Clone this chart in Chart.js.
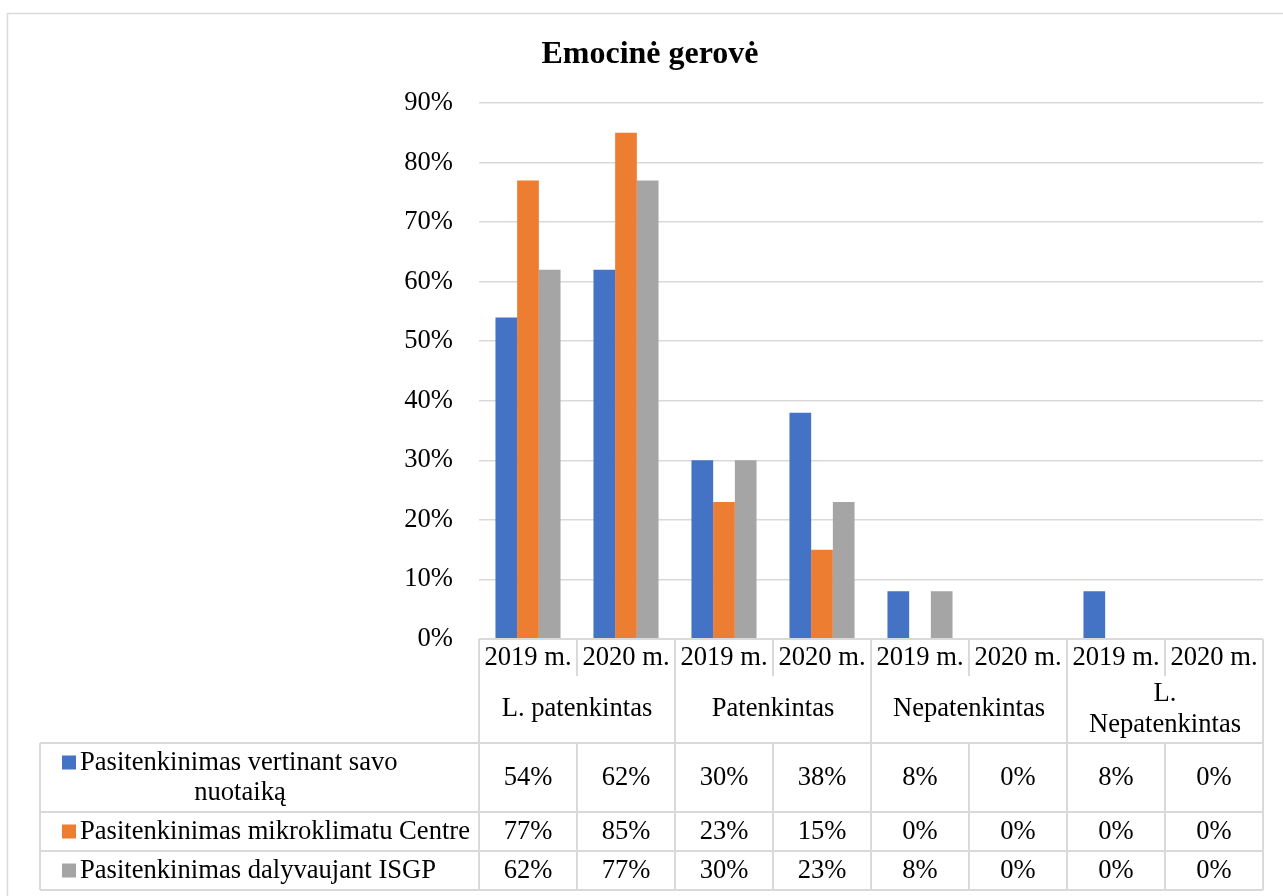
<!DOCTYPE html>
<html>
<head>
<meta charset="utf-8">
<title>Emocinė gerovė</title>
<script src="https://cdn.jsdelivr.net/npm/chart.js@4.4.1/dist/chart.umd.min.js"></script>
<style>
  html, body { margin: 0; padding: 0; background: #fff; }
  #wrap { width: 1283px; height: 896px; position: relative; }
</style>
</head>
<body>
<div id="wrap"><canvas id="emocChart"></canvas></div>
<script>
// values
var chartTitle = 'Emocinė gerovė';
var years = ['2019 m.', '2020 m.'];
var groups = [['L. patenkintas'], ['Patenkintas'], ['Nepatenkintas'], ['L.', 'Nepatenkintas']];
var seriesNames = [
    ['Pasitenkinimas vertinant savo', 'nuotaiką'],
    ['Pasitenkinimas mikroklimatu Centre'],
    ['Pasitenkinimas dalyvaujant ISGP']
];
var nuotaika = [54, 62, 30, 38, 8, 0, 8, 0];
var mikroklimatas = [77, 85, 23, 15, 0, 0, 0, 0];
var dalyvavimas = [62, 77, 30, 23, 8, 0, 0, 0];
var yMax = 90;
var yStep = 10;

var colors = ['#4472C4', '#ED7D31', '#A5A5A5'];
var gridColor = '#D9D9D9';
var serif = '"Liberation Serif", "Times New Roman", serif';
var fontSize = 26.6;
var textFont = fontSize + 'px ' + serif;

// one label per bar group: [year, group]
var labels = [];
groups.forEach(function (g) {
    years.forEach(function (y) {
        labels.push([y, g.join(' ')]);
    });
});

var seriesValues = [nuotaika, mikroklimatas, dalyvavimas];

// draws title, outer border and the data table under the plot
var tablePlugin = {
    id: 'dataTable',
    afterDraw: function (chart) {
        var ctx = chart.ctx;
        var area = chart.chartArea;
        var x = chart.scales.x;
        var step = x.getPixelForValue(1) - x.getPixelForValue(0);
        var n = labels.length;

        var top = area.bottom;
        var yearBottom = top + 37;
        var groupBottom = top + 104;
        var rowHeights = [69, 39, 39];
        var rowTops = [groupBottom];
        rowHeights.forEach(function (h, i) { rowTops.push(rowTops[i] + h); });
        var tableBottom = rowTops[rowTops.length - 1];
        var legendLeft = 40;

        ctx.save();

        // outer chart border
        ctx.strokeStyle = gridColor;
        ctx.lineWidth = 1.5;
        ctx.strokeRect(7.5, 13.5, 1300, 900);

        // title
        ctx.fillStyle = '#000';
        ctx.font = 'bold 32px ' + serif;
        ctx.textAlign = 'center';
        ctx.textBaseline = 'alphabetic';
        ctx.fillText(chartTitle, 650, 63);

        // table lines
        ctx.strokeStyle = gridColor;
        ctx.lineWidth = 2;
        function line(x1, y1, x2, y2) {
            ctx.beginPath();
            ctx.moveTo(x1, y1);
            ctx.lineTo(x2, y2);
            ctx.stroke();
        }
        line(area.left, top, area.right, top);
        rowTops.forEach(function (ry) { line(legendLeft, ry, area.right, ry); });
        line(legendLeft, groupBottom, legendLeft, tableBottom);
        for (var k = 0; k <= n; k++) {
            var bx = area.left + k * step;
            if (k % years.length === 0) {
                line(bx, top, bx, tableBottom);
            } else {
                line(bx, top, bx, yearBottom);
                line(bx, groupBottom, bx, tableBottom);
            }
        }

        ctx.fillStyle = '#000';
        ctx.font = textFont;
        ctx.textAlign = 'center';
        ctx.textBaseline = 'middle';

        // year labels
        for (var i = 0; i < n; i++) {
            ctx.fillText(labels[i][0], x.getPixelForValue(i), (top + yearBottom) / 2 + 1);
        }

        // group labels
        var groupMid = (yearBottom + groupBottom) / 2;
        groups.forEach(function (g, gi) {
            var cx = area.left + (gi + 0.5) * step * years.length;
            g.forEach(function (txt, li) {
                var ty = groupMid + (li - (g.length - 1) / 2) * 31;
                ctx.fillText(txt, cx, ty);
            });
        });

        // value rows with legend keys
        seriesValues.forEach(function (vals, si) {
            var rowMid = (rowTops[si] + rowTops[si + 1]) / 2;
            for (var j = 0; j < n; j++) {
                ctx.textAlign = 'center';
                ctx.fillText(vals[j] + '%', x.getPixelForValue(j), rowMid + 1);
            }
            var names = seriesNames[si];
            var firstY = rowMid - (names.length - 1) / 2 * 30;
            ctx.fillStyle = colors[si];
            ctx.fillRect(62, firstY - 7, 14, 14);
            ctx.fillStyle = '#000';
            ctx.textAlign = 'left';
            ctx.fillText(names[0], 80, firstY + 1);
            if (names.length > 1) {
                ctx.textAlign = 'center';
                ctx.fillText(names[1], 240, firstY + 31);
            }
        });

        ctx.restore();
    }
};

var chart = new Chart(document.getElementById('emocChart'), {
    type: 'bar',
    data: {
        labels: labels,
        datasets: seriesNames.map(function (name, i) {
            return {
                label: name.join(' '),
                data: seriesValues[i],
                backgroundColor: colors[i],
                categoryPercentage: 0.664,
                barPercentage: 1.0
            };
        })
    },
    options: {
        responsive: true,
        maintainAspectRatio: false,
        animation: false,
        layout: { padding: { top: 103, left: 400, right: 20, bottom: 0 } },
        plugins: {
            legend: { display: false },
            title: { display: false },
            tooltip: { enabled: false }
        },
        scales: {
            x: {
                grid: { display: false },
                border: { display: false },
                ticks: { display: false },
                afterFit: function (s) { s.height = 257; }
            },
            y: {
                min: 0,
                max: yMax,
                ticks: {
                    stepSize: yStep,
                    padding: 26,
                    color: '#000',
                    font: { family: serif, size: fontSize },
                    callback: function (v) { return v + '%'; }
                },
                grid: { color: gridColor, lineWidth: 1.5, drawTicks: false },
                border: { display: false },
                afterFit: function (s) { s.width = 79; }
            }
        }
    },
    plugins: [tablePlugin]
});
</script>
</body>
</html>
